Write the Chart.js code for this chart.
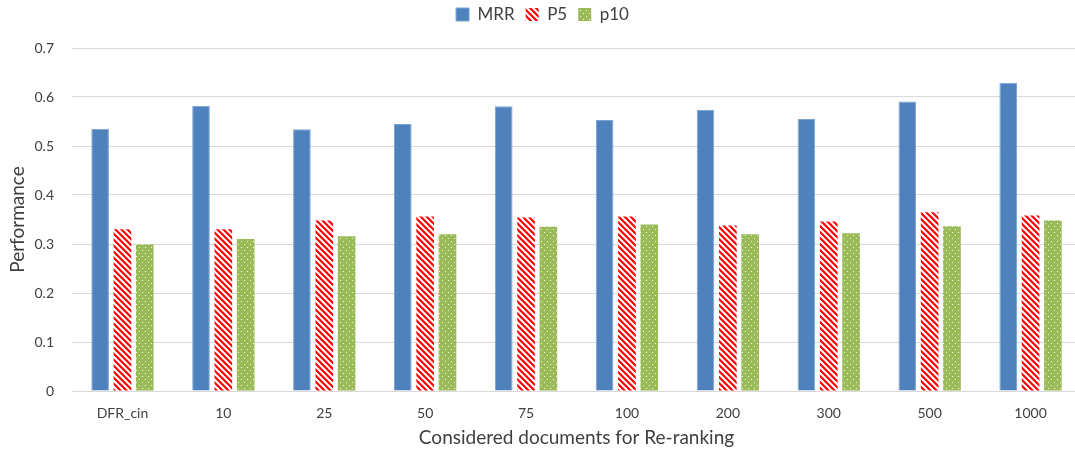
<!DOCTYPE html>
<html>
<head>
<meta charset="utf-8">
<script src="https://cdn.jsdelivr.net/npm/chart.js@4/dist/chart.umd.min.js"></script>
<style>
  html, body { margin: 0; padding: 0; background: #fff; overflow: hidden; }
  #wrap { width: 1081px; height: 453px; }
</style>
</head>
<body>
<div id="wrap"><canvas id="c" width="1081" height="453"></canvas></div>
<script>
// Re-ranking depth and the scores measured at each setting
const categories = ['DFR_cin', '10', '25', '50', '75', '100', '200', '300', '500', '1000'];
const mrr = [0.535, 0.582, 0.534, 0.545, 0.581, 0.553, 0.574, 0.555, 0.591, 0.629];
const p5  = [0.330, 0.330, 0.348, 0.356, 0.354, 0.356, 0.338, 0.346, 0.365, 0.358];
const p10 = [0.299, 0.310, 0.316, 0.320, 0.335, 0.340, 0.320, 0.322, 0.336, 0.348];
const yTicks = [0, 0.1, 0.2, 0.3, 0.4, 0.5, 0.6, 0.7];

const FONT = 'Lato, "Open Sans", sans-serif';
const TEXT = '#404040';
const GRID = '#D9D9D9';

// Red diagonal hatching
function stripePattern() {
  const s = 6;
  const c = document.createElement('canvas');
  c.width = s; c.height = s;
  const g = c.getContext('2d');
  g.fillStyle = '#fff';
  g.fillRect(0, 0, s, s);
  g.strokeStyle = '#FF0000';
  g.lineWidth = 2.2;
  g.beginPath();
  for (let k = -1; k <= 1; k++) {
    g.moveTo(k * s - 1, -1);
    g.lineTo(k * s + s + 1, s + 1);
  }
  g.stroke();
  return g.createPattern(c, 'repeat');
}

// Green fill with small white dots
function dotPattern() {
  const c = document.createElement('canvas');
  c.width = 6; c.height = 6;
  const g = c.getContext('2d');
  g.fillStyle = '#9BBB59';
  g.fillRect(0, 0, 6, 6);
  g.fillStyle = 'rgba(255,255,255,0.85)';
  g.fillRect(1, 1, 1, 1);
  g.fillRect(4, 4, 1, 1);
  return g.createPattern(c, 'repeat');
}

const stripes = stripePattern();
const dots = dotPattern();

// Leave extra room between the legend row and the plot
const legendGap = {
  id: 'legendGap',
  beforeInit(chart) {
    const fit = chart.legend.fit;
    chart.legend.fit = function () {
      fit.call(this);
      this.height += 15;
    };
  }
};

new Chart(document.getElementById('c'), {
  type: 'bar',
  data: {
    labels: categories,
    datasets: [
      { label: 'MRR', data: mrr, backgroundColor: '#4F81BD', borderColor: '#7DA2D1', borderWidth: 1 },
      { label: 'P5', data: p5, backgroundColor: stripes, borderWidth: 0 },
      { label: 'p10', data: p10, backgroundColor: dots, borderWidth: 0 }
    ]
  },
  plugins: [legendGap],
  options: {
    responsive: false,
    animation: false,
    categoryPercentage: 0.664,
    barPercentage: 0.79,
    layout: { padding: { top: -5, right: 0, bottom: 4, left: 4 } },
    plugins: {
      tooltip: { enabled: false },
      legend: {
        position: 'top',
        labels: {
          font: { family: FONT, size: 17 },
          color: TEXT,
          boxWidth: 13,
          boxHeight: 13,
          padding: 11
        }
      }
    },
    scales: {
      x: {
        grid: { display: false, drawTicks: false },
        border: { display: true, color: GRID, width: 1 },
        ticks: { font: { family: FONT, size: 14 }, color: TEXT, padding: 14, maxRotation: 0 },
        title: {
          display: true,
          text: 'Considered documents for Re-ranking',
          font: { family: FONT, size: 19 },
          color: TEXT,
          padding: { top: 0, bottom: 0 }
        },
        afterFit: (axis) => { axis.height = 58; }
      },
      y: {
        min: 0,
        max: 0.7,
        afterBuildTicks: (axis) => { axis.ticks = yTicks.map(v => ({ value: v })); },
        grid: { color: GRID, lineWidth: 1, drawTicks: false },
        border: { display: false },
        ticks: {
          font: { family: FONT, size: 14 },
          color: TEXT,
          padding: 18,
          callback: (v) => String(+Number(v).toFixed(1))
        },
        title: {
          display: true,
          text: 'Performance',
          font: { family: FONT, size: 19 },
          color: TEXT,
          padding: { top: 2, bottom: 4 }
        },
        afterFit: (axis) => { axis.width = 68; }
      }
    }
  }
});
</script>
</body>
</html>
